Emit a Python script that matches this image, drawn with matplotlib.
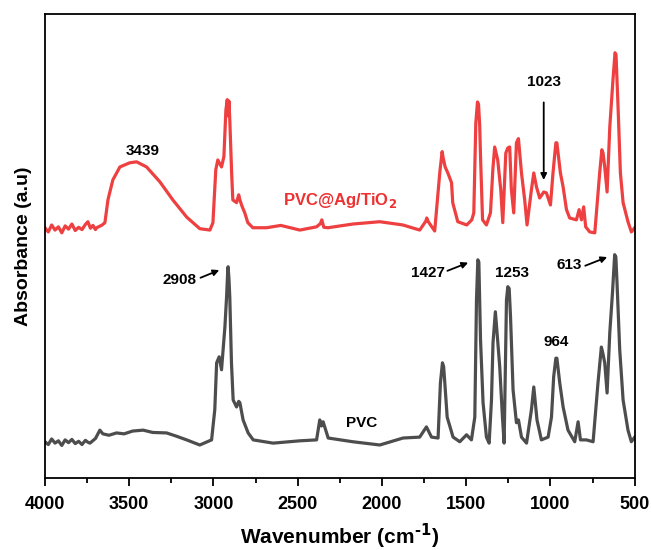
import numpy as np
import matplotlib.pyplot as plt
from matplotlib.ticker import MultipleLocator

plt.rcParams['font.family'] = ['Liberation Sans', 'DejaVu Sans']
plt.rcParams['font.weight'] = 'bold'
plt.rcParams['mathtext.default'] = 'bf'

# PVC@Ag/TiO2 spectrum (wavenumber, absorbance a.u., offset already included)
wn_red = [4000, 3980, 3960, 3940, 3920, 3900, 3880, 3860, 3840, 3820, 3800, 3780,
          3760, 3745, 3730, 3715, 3700, 3693, 3660, 3644, 3626, 3597, 3555,
          3496, 3456, 3397, 3318, 3241, 3159, 3081, 3021, 3003, 2986, 2974, 2952,
          2938, 2926, 2918, 2913, 2908, 2903, 2892, 2885, 2863, 2850, 2843, 2830,
          2814, 2796, 2766, 2685, 2600, 2487, 2388, 2365, 2357, 2345, 2321, 2173,
          2013, 1876, 1776, 1740, 1734, 1725, 1687, 1657, 1643, 1637, 1625,
          1609, 1587, 1580, 1550, 1497, 1467, 1455, 1443, 1433, 1427, 1420, 1415, 1403, 1380,
          1356, 1342, 1331, 1313, 1295, 1283, 1265, 1253, 1242, 1232, 1218, 1202,
          1190, 1172, 1153, 1139, 1113, 1099, 1083, 1064, 1040, 1024, 1000, 985,
          968, 962, 941, 925, 905, 886, 846, 830, 816, 803, 791, 767, 737, 708, 695, 688,
          678, 664, 648, 629, 617, 611, 599, 585, 569, 540, 520, 500]
abs_red = [.539, .530, .545, .534, .541, .528, .543, .536, .547, .533, .540, .535,
           .546, .552, .538, .544, .535, .539, .545, .550, .599, .642, .670,
           .679, .681, .670, .638, .599, .562, .537, .534, .550, .664, .685, .670,
           .692, .793, .815, .780, .812, .772, .657, .599, .593, .610, .599, .585,
           .571, .550, .539, .539, .544, .534, .541, .548, .556, .540, .539, .547,
           .552, .545, .534, .553, .560, .552, .532, .657, .703, .690, .670,
           .657, .636, .593, .552, .545, .556, .571, .765, .810, .805, .760, .692, .556, .545,
           .571, .664, .713, .685, .621, .550, .700, .711, .713, .621, .571, .722,
           .731, .657, .599, .545, .621, .657, .627, .603, .616, .614, .588, .657,
           .722, .722, .657, .627, .578, .560, .556, .578, .556, .584, .541, .530, .528,
           .657, .707, .700, .670, .616, .756, .858, .916, .912, .800, .657, .593, .552, .530, .539]

# PVC spectrum
wn_pvc = [4000, 3980, 3960, 3940, 3920, 3900, 3880, 3860, 3840, 3820, 3800, 3780,
          3760, 3745, 3733, 3700, 3674, 3656, 3620, 3575, 3530, 3480, 3417, 3360, 3278,
          3220, 3159, 3081, 3011, 2992, 2981, 2966, 2952, 2932, 2922, 2916, 2913, 2908,
          2903, 2893, 2883, 2863, 2850, 2843, 2824, 2794, 2764, 2646, 2487, 2388, 2369,
          2359, 2349, 2319, 2173, 2013, 1875, 1776, 1736, 1706, 1667, 1653, 1641, 1634,
          1627, 1613, 1578, 1538, 1498, 1469, 1449, 1439, 1431, 1425, 1415, 1400, 1380,
          1364, 1350, 1341, 1327, 1315, 1301, 1285, 1275, 1261, 1253, 1245, 1237, 1222,
          1202, 1190, 1172, 1142, 1113, 1099, 1080, 1054, 1014, 994, 981, 968, 962, 945,
          925, 896, 856, 836, 822, 787, 747, 718, 698, 690, 678, 664, 648, 632, 619, 612,
          605, 589, 569, 540, 520, 500]
abs_pvc = [.078, .072, .084, .075, .080, .070, .082, .076, .083, .074, .079, .072,
           .081, .077, .075, .085, .103, .095, .092, .097, .095, .101, .103, .098, .097,
           .090, .082, .071, .082, .147, .248, .261, .233, .325, .390, .440, .455, .430,
           .390, .248, .168, .153, .165, .162, .125, .097, .082, .075, .080, .082, .125,
           .112, .121, .086, .078, .071, .086, .088, .110, .088, .086, .205, .248, .240,
           .205, .131, .088, .078, .093, .082, .131, .384, .470, .465, .297, .162, .088,
           .075, .168, .291, .358, .304, .239, .131, .075, .384, .412, .408, .347, .190,
           .119, .125, .088, .075, .147, .196, .125, .082, .088, .131, .218, .258, .258, .205,
           .153, .103, .078, .121, .082, .082, .078, .205, .282, .270, .248, .183, .313, .399,
           .481, .476, .420, .276, .168, .103, .078, .088]

fig = plt.figure(figsize=(6.51, 5.5), dpi=100)
ax = fig.add_axes([0.069, 0.131, 0.906, 0.844])

ax.plot(wn_red, abs_red, color='#EE4040', lw=2.3, solid_joinstyle='round')
ax.plot(wn_pvc, abs_pvc, color='#4D4D4D', lw=2.3, solid_joinstyle='round')

ax.set_xlim(4000, 500)
ax.set_ylim(0, 1)
ax.xaxis.set_major_locator(MultipleLocator(500))
ax.xaxis.set_minor_locator(MultipleLocator(250))
ax.set_yticks([])
ax.tick_params(axis='x', which='major', length=6, width=1.3, direction='out',
               labelsize=13, pad=7)
ax.tick_params(axis='x', which='minor', length=3.5, width=1.3, direction='out')
for lab in ax.get_xticklabels():
    lab.set_fontweight('bold')
for sp in ax.spines.values():
    sp.set_linewidth(1.3)

ax.set_xlabel('Wavenumber (cm$^{\\text{-1}}$)', fontsize=15, fontweight='bold', labelpad=6)
ax.set_ylabel('Absorbance (a.u)', fontsize=14, fontweight='bold', labelpad=9)

txt = dict(fontsize=11, fontweight='bold', ha='center', va='center')
arr = dict(arrowstyle='-|>', color='black', lw=1.3, mutation_scale=9)

ax.text(3419, .705, '3439', **txt)
ax.text(2250, .597, 'PVC@Ag/TiO$_{\\text{2}}$', color='#EE3030', fontsize=12,
        fontweight='bold', ha='center', va='center')
ax.text(2120, .119, 'PVC', **txt)
ax.text(1230, .442, '1253', **txt)
ax.text(969, .293, '964', **txt)

ax.annotate('', xy=(2950, .450), xytext=(3092, .429), arrowprops=arr)
ax.text(3199, .427, '2908', **txt)
ax.annotate('', xy=(1473, .466), xytext=(1627, .444), arrowprops=arr)
ax.text(1728, .442, '1427', **txt)
ax.annotate('', xy=(648, .478), xytext=(809, .455), arrowprops=arr)
ax.text(886, .459, '613', **txt)
ax.annotate('', xy=(1040, .636), xytext=(1040, .815), arrowprops=arr)
ax.text(1040, .853, '1023', **txt)

fig.savefig('out.png', dpi=100)
